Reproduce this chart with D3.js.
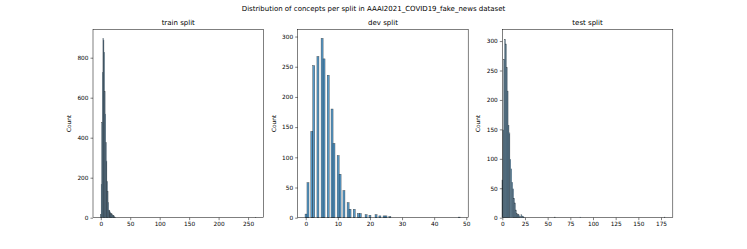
<!DOCTYPE html>
<html>
<head>
<meta charset="utf-8">
<script src="https://cdn.jsdelivr.net/npm/d3@7"></script>
<style>
  body { margin: 0; background: #fff; }
  svg { display: block; font-family: "DejaVu Sans", sans-serif; }
</style>
</head>
<body>
<div id="chart"></div>
<script>
// concept count per text -> number of texts
var trainValues = [0, 1, 2, 3, 4, 5, 6, 7, 8, 9, 10, 11, 12, 13, 14, 15, 16, 17, 18, 19, 20, 21, 22, 23, 24, 25, 263];
var trainCounts = [17, 167, 475, 727, 897, 888, 827, 630, 518, 375, 283, 180, 130, 75, 38, 35, 29, 20, 20, 19, 14, 12, 10, 5, 3, 2, 1];

var devValues = [0.1, 0.7, 1.9, 2.5, 3.8, 5.1, 5.7, 7.0, 8.2, 8.8, 10.1, 10.7, 11.9, 13.2, 13.8, 15.1, 16.4, 17.0, 18.8, 20.0, 21.9, 23.1, 24.4, 25.0, 26.2, 47.8];
var devCounts = [6, 58, 143, 252, 267, 297, 263, 236, 180, 123, 103, 72, 45, 25, 14, 14, 7, 7, 5, 4, 5, 3, 3, 3, 2, 1];

var testValues = [0, 1, 2, 3, 4, 5, 6, 7, 8, 9, 10, 11, 12, 13, 14, 15, 16, 17, 18, 19, 20, 21, 22, 23, 24, 58, 86, 179];
var testCounts = [64, 149, 269, 303, 295, 255, 215, 157, 144, 99, 83, 60, 49, 33, 25, 13, 7, 5, 6, 3, 2, 5, 3, 2, 1, 1, 1, 1];

var trainXTicks = [0, 50, 100, 150, 200, 250];
var trainYTicks = [0, 200, 400, 600, 800];
var devXTicks = [0, 10, 20, 30, 40, 50];
var devYTicks = [0, 50, 100, 150, 200, 250, 300];
var testXTicks = [0, 25, 50, 75, 100, 125, 150, 175];
var testYTicks = [0, 50, 100, 150, 200, 250, 300];

var panelTitles = ["train split", "dev split", "test split"];
var mainTitle = "Distribution of concepts per split in AAAI2021_COVID19_fake_news dataset";

var global_width = 747, global_height = 249;
var panel = {top: 29.3, height: 188.4, width: 170.5};
var panelLefts = [93, 297.7, 502.3];

var svg = d3.select("#chart")
    .append("svg")
    .attr("width", global_width)
    .attr("height", global_height);

svg.append("text")
    .attr("x", 373.5)
    .attr("y", 10.5)
    .attr("text-anchor", "middle")
    .attr("font-size", 7)
    .text(mainTitle);

function drawPanel(i, values, counts, xDomain, yDomain, xTicks, yTicks, binWidth) {
    var g = svg.append("g")
        .attr("transform", "translate(" + panelLefts[i] + "," + panel.top + ")");

    var x = d3.scaleLinear().domain(xDomain).range([0, panel.width]);
    var y = d3.scaleLinear().domain(yDomain).range([panel.height, 0]);

    var bins = values.map(function(v, k) { return {v: v, c: counts[k]}; });

    g.append("g").selectAll("rect")
        .data(bins)
        .enter()
        .append("rect")
        .attr("x", function(d) { return x(d.v - binWidth / 2); })
        .attr("width", function(d) { return x(d.v + binWidth / 2) - x(d.v - binWidth / 2); })
        .attr("y", function(d) { return y(d.c); })
        .attr("height", function(d) { return y(0) - y(d.c); })
        .attr("fill", "rgba(31,119,180,0.75)")
        .attr("stroke", "#1b1b1b")
        .attr("stroke-opacity", 0.8)
        .attr("stroke-width", 0.4);

    var xAxis = g.append("g")
        .attr("transform", "translate(0," + panel.height + ")")
        .call(d3.axisBottom(x).tickValues(xTicks).tickSize(2.5).tickPadding(2));
    var yAxis = g.append("g")
        .call(d3.axisLeft(y).tickValues(yTicks).tickSize(2.5).tickPadding(2));
    [xAxis, yAxis].forEach(function(a) {
        a.select(".domain").remove();
        a.selectAll("text").attr("font-size", 5.8).attr("font-family", "DejaVu Sans").attr("fill", "#000");
        a.selectAll("line").attr("stroke", "#000").attr("stroke-width", 0.5);
    });

    // frame
    g.append("rect")
        .attr("width", panel.width)
        .attr("height", panel.height)
        .attr("fill", "none")
        .attr("stroke", "#000")
        .attr("stroke-width", 0.5);

    g.append("text")
        .attr("x", panel.width / 2)
        .attr("y", -4.5)
        .attr("text-anchor", "middle")
        .attr("font-size", 7)
        .text(panelTitles[i]);

    g.append("text")
        .attr("transform", "rotate(-90)")
        .attr("x", -panel.height / 2)
        .attr("y", -22)
        .attr("text-anchor", "middle")
        .attr("font-size", 5.8)
        .text("Count");
}

drawPanel(0, trainValues, trainCounts, [-13.2, 276.2], [0, 942], trainXTicks, trainYTicks, 0.7);
drawPanel(1, devValues, devCounts, [-2.5, 50.6], [0, 312], devXTicks, devYTicks, 0.63);
drawPanel(2, testValues, testCounts, [0, 188], [0, 320], testXTicks, testYTicks, 0.7);
</script>
</body>
</html>
